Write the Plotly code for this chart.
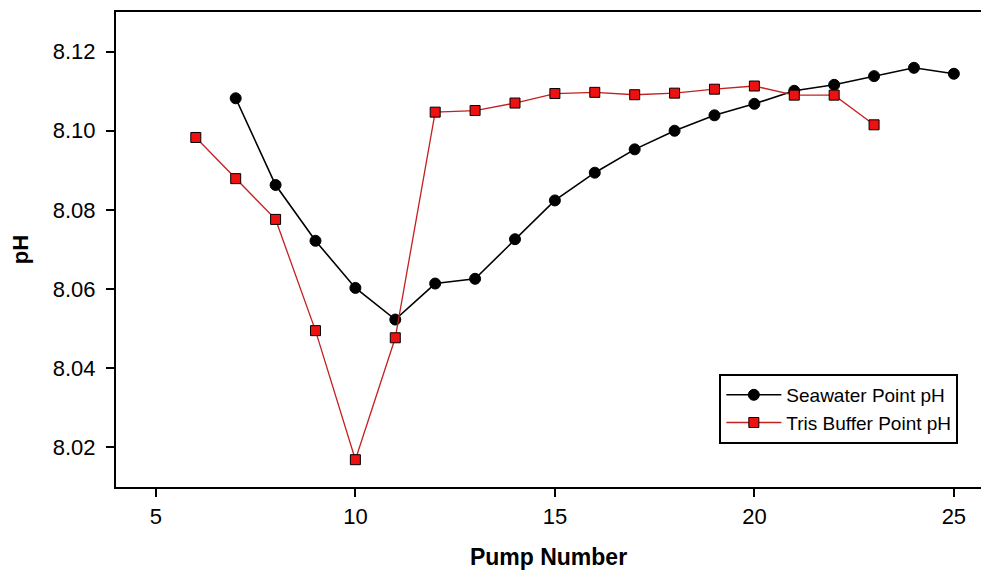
import plotly.graph_objects as go

# Pump number vs. measured pH for the two sampling points
seawater_pump = [7, 8, 9, 10, 11, 12, 13, 14, 15, 16, 17, 18, 19, 20, 21, 22, 23, 24, 25]
seawater_ph = [8.1082, 8.0863, 8.0722, 8.0603, 8.0523, 8.0614, 8.0626, 8.0726, 8.0824,
               8.0894, 8.0953, 8.1000, 8.1039, 8.1068, 8.1101, 8.1116, 8.1138, 8.1159, 8.1144]

tris_pump = [6, 7, 8, 9, 10, 11, 12, 13, 14, 15, 16, 17, 18, 19, 20, 21, 22, 23]
tris_ph = [8.0983, 8.0879, 8.0776, 8.0495, 8.0169, 8.0477, 8.1047, 8.1051, 8.1070,
           8.1094, 8.1097, 8.1091, 8.1095, 8.1105, 8.1113, 8.1090, 8.1090, 8.1015]

x_ticks = [5, 10, 15, 20, 25]
y_ticks = [8.02, 8.04, 8.06, 8.08, 8.10, 8.12]
y_tick_text = ["8.02", "8.04", "8.06", "8.08", "8.10", "8.12"]

FONT = "Liberation Sans, Arial, sans-serif"

fig = go.Figure()
fig.add_trace(go.Scatter(
    x=seawater_pump, y=seawater_ph, mode="lines+markers",
    name="Seawater Point pH",
    line=dict(color="black", width=1.6),
    marker=dict(symbol="circle", size=11, color="black",
                line=dict(color="black", width=1)),
))
fig.add_trace(go.Scatter(
    x=tris_pump, y=tris_ph, mode="lines+markers",
    name="Tris Buffer Point pH",
    line=dict(color="#c42020", width=1.3),
    marker=dict(symbol="square", size=10, color="#ee1111",
                line=dict(color="black", width=1)),
))

fig.update_layout(
    width=981, height=574,
    margin=dict(l=116, r=0, t=12, b=87),
    paper_bgcolor="white", plot_bgcolor="white",
    font=dict(family=FONT, color="black"),
    showlegend=True,
    legend=dict(
        x=0.6975, y=0.238, xanchor="left", yanchor="top",
        bgcolor="white", bordercolor="black", borderwidth=2,
        font=dict(family=FONT, size=19, color="black"),
        itemwidth=55,
        tracegroupgap=0,
    ),
)

fig.update_xaxes(
    range=[4, 25.68],
    tickvals=x_ticks,
    ticks="outside", ticklen=8, tickwidth=1.5, tickcolor="black",
    showline=True, linecolor="black", linewidth=2, mirror=True,
    showgrid=False, zeroline=False,
    ticklabelstandoff=1,
    tickfont=dict(family=FONT, size=22, color="black"),
    title=dict(text="<b>Pump Number</b>", font=dict(family=FONT, size=23, color="black"),
               standoff=20),
)
fig.update_yaxes(
    range=[8.01, 8.13],
    tickvals=y_ticks, ticktext=y_tick_text,
    ticks="outside", ticklen=8, tickwidth=1.5, tickcolor="black",
    showline=True, linecolor="black", linewidth=2, mirror=False,
    showgrid=False, zeroline=False,
    ticklabelstandoff=6,
    tickfont=dict(family=FONT, size=22, color="black"),
    title=dict(text="<b>pH</b>", font=dict(family=FONT, size=22, color="black"),
               standoff=18),
)

fig.write_html("out.html")
